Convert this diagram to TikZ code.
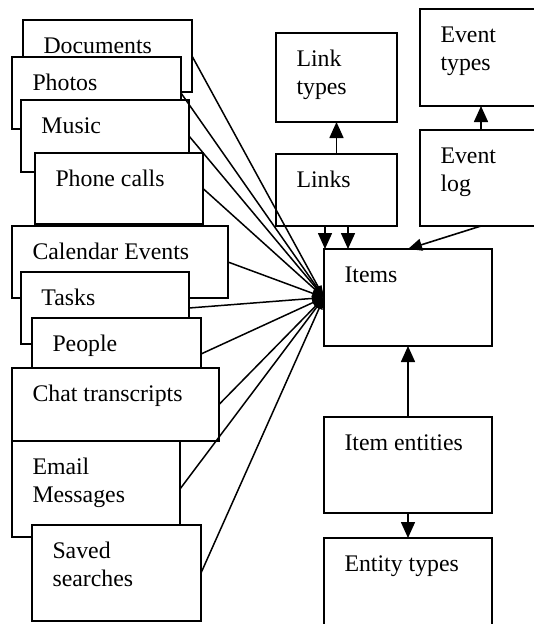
\documentclass[tikz,border=0pt]{standalone}
\usepackage{fontspec}
\setmainfont{Liberation Serif}
\usetikzlibrary{arrows.meta}
\tikzset{
  box/.style={draw=black, fill=white, line width=2pt, inner sep=0pt, outer sep=0pt, anchor=center},
  lbl/.style={anchor=base west, inner sep=0pt, outer sep=0pt,
    font=\fontsize{23.8}{27.5}\selectfont},
  bigarr/.style={line width=1.6pt, -{Triangle[length=16pt, width=14pt]}},
  smallarr/.style={line width=1.5pt, -{Triangle[length=12pt, width=7pt]}},
}
\newcommand\mybox[6]{%
  \node[box, minimum width=#4pt, minimum height=#5pt] (#1) at ({#2+#4/2},{#3+#5/2}) {};
  \node[lbl] (#1t) at ([xshift=20.5pt,yshift=-33.5pt]#1.north west) {#6};
}
\newcommand\myboxtwo[7]{%
  \node[box, minimum width=#4pt, minimum height=#5pt] (#1) at ({#2+#4/2},{#3+#5/2}) {};
  \node[lbl] (#1t) at ([xshift=20.5pt,yshift=-33.5pt]#1.north west) {#6};
  \node[lbl] (#1u) at ([xshift=20.5pt,yshift=-61pt]#1.north west) {#7};
}
\begin{document}
\begin{tikzpicture}[x=1pt,y=-1pt]
\useasboundingbox (0,0) rectangle (534,624);
\clip (0,0) rectangle (534,624);
% left stack
\mybox{doc}{23}{20}{169}{72}{Documents}
\mybox{photos}{12}{57}{169}{72}{Photos}
\mybox{music}{21}{100}{168}{72}{Music}
\mybox{phone}{35}{153}{168}{71}{Phone calls}
\mybox{cal}{12}{226}{216}{72}{Calendar Events}
\mybox{tasks}{21}{272}{168}{72}{Tasks}
\mybox{people}{32}{318}{169}{72}{People}
\mybox{chat}{12}{368}{207}{73}{Chat transcripts}
\myboxtwo{email}{12}{441}{168}{96}{Email}{Messages}
\myboxtwo{saved}{32}{525}{169}{96}{Saved}{searches}
% right side
\myboxtwo{linktypes}{276}{33}{121}{89}{Link}{types}
\mybox{links}{276}{154}{121}{72}{Links}
\myboxtwo{eventtypes}{420}{9}{122}{97}{Event}{types}
\myboxtwo{eventlog}{420}{130}{122}{96}{Event}{log}
\mybox{items}{324}{249}{168}{97}{Items}
\mybox{itement}{324}{417}{168}{96}{Item entities}
\mybox{enttypes}{324}{538}{168}{96}{Entity types}
% connectors to Items
\foreach \s in {doc,photos,music,phone,cal,tasks,people,chat,email,saved}
  \draw[smallarr] (\s.east) -- (items.west);
\draw[bigarr] (links.north) -- (linktypes.south);
\draw[bigarr] ([xshift=1pt]items.north west |- links.south) -- ([xshift=1pt]items.north west);
\draw[bigarr] ([xshift=24pt]items.north west |- links.south) -- ([xshift=24pt]items.north west);
\draw[bigarr] (eventlog.north) -- (eventtypes.south);
\draw[line width=1.6pt, -{Triangle[length=14pt, width=12pt]}] (eventlog.south) -- (items.north);
\draw[bigarr] (itement.north) -- (items.south);
\draw[bigarr] (itement.south) -- (enttypes.north);
\end{tikzpicture}
\end{document}
